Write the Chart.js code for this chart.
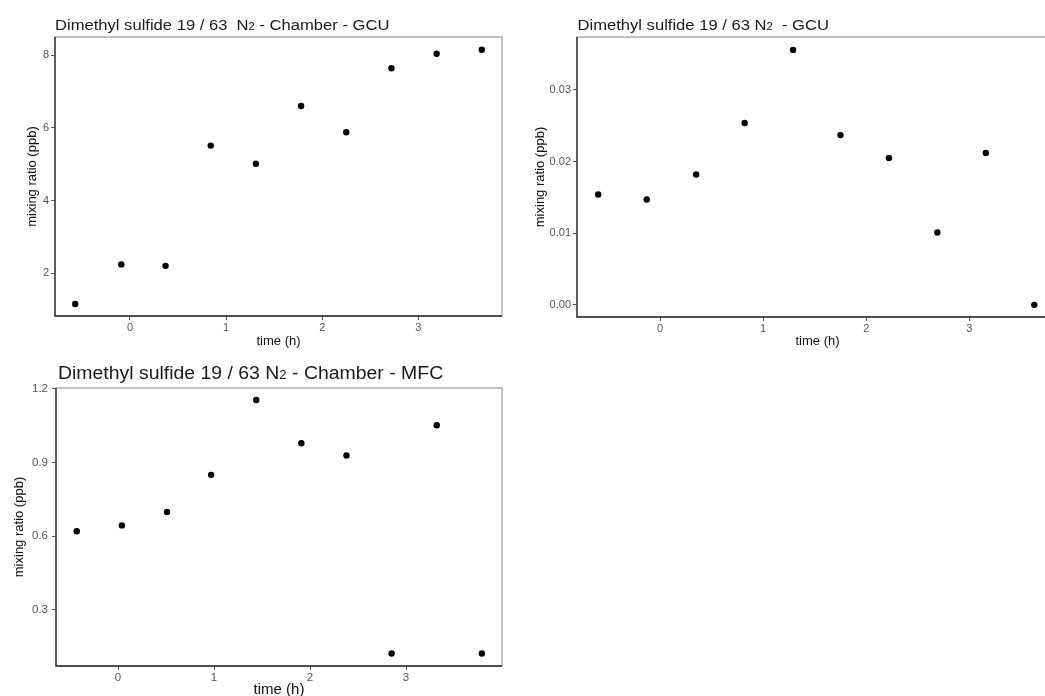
<!DOCTYPE html>
<html>
<head>
<meta charset="utf-8">
<script src="https://cdn.jsdelivr.net/npm/chart.js@4.4.1/dist/chart.umd.min.js"></script>
<style>
  html, body { margin: 0; padding: 0; background: #fff; overflow: hidden; width: 1045px; height: 696px; }
  canvas { position: absolute; }
</style>
</head>
<body>
<canvas id="cGcuChamber" width="515" height="350" style="left:0;top:0"></canvas>
<canvas id="cGcu" width="560" height="350" style="left:520px;top:0"></canvas>
<canvas id="cMfc" width="515" height="351" style="left:0;top:345px"></canvas>
<script>
// DMS 19/63 in N2 — three measurement lines
const timeGcuChamber = [-0.57, -0.09, 0.37, 0.84, 1.31, 1.78, 2.25, 2.72, 3.19, 3.66];
const dmsGcuChamber  = [1.15, 2.24, 2.20, 5.51, 5.01, 6.60, 5.88, 7.64, 8.04, 8.15];

const timeGcu = [-0.60, -0.13, 0.35, 0.82, 1.29, 1.75, 2.22, 2.69, 3.16, 3.63];
const dmsGcu  = [0.0154, 0.0147, 0.0182, 0.0254, 0.0356, 0.0237, 0.0205, 0.0101, 0.0212, 0.0000];

const timeMfc = [-0.43, 0.04, 0.51, 0.97, 1.44, 1.91, 2.38, 2.85, 3.32, 3.79];
const dmsMfc  = [0.620, 0.644, 0.699, 0.850, 1.155, 0.979, 0.929, 0.122, 1.052, 0.122];

const timeTicks = [0, 1, 2, 3];
const yTicksGcuChamber = [2, 4, 6, 8];
const yTicksGcu = [0, 0.01, 0.02, 0.03];
const yTicksMfc = [0.3, 0.6, 0.9, 1.2];

const FONT = '"Liberation Sans", Arial, Helvetica, sans-serif';

// title pieces: [text before subscript, subscript, text after]
function titleParts(pre, sub, post) { return [pre, sub, post]; }

// frame + title + axis titles, drawn around the chart area
const panelDecor = {
  id: 'panelDecor',
  afterDraw(chart, args, o) {
    const { ctx, chartArea: a } = chart;
    ctx.save();
    ctx.lineWidth = 1.3;
    ctx.strokeStyle = '#a3a3a3';
    ctx.strokeRect(a.left, a.top, a.right - a.left, a.bottom - a.top);
    ctx.strokeStyle = '#2a2a2a';
    ctx.beginPath();
    ctx.moveTo(a.left, a.top);
    ctx.lineTo(a.left, a.bottom);
    ctx.lineTo(a.right, a.bottom);
    ctx.stroke();

    // title with a smaller "2" for N2
    ctx.save();
    ctx.fillStyle = '#1a1a1a';
    ctx.textAlign = 'left';
    ctx.textBaseline = 'alphabetic';
    ctx.translate(a.left + o.titleDx, a.top - o.titleGap);
    ctx.scale(o.titleStretch, 1);
    let x = 0;
    o.title.forEach((s, i) => {
      ctx.font = (i === 1 ? o.titleSize * 0.68 : o.titleSize) + 'px ' + FONT;
      ctx.fillText(s, x, 0);
      x += ctx.measureText(s).width;
    });
    ctx.restore();

    ctx.fillStyle = '#111';
    ctx.textAlign = 'center';
    ctx.textBaseline = 'middle';
    ctx.font = o.xTitleSize + 'px ' + FONT;
    ctx.fillText('time (h)', (a.left + a.right) / 2, a.bottom + o.xTitleGap);

    ctx.font = o.yTitleSize + 'px ' + FONT;
    ctx.translate(o.yTitleX, (a.top + a.bottom) / 2);
    ctx.rotate(-Math.PI / 2);
    ctx.fillText('mixing ratio (ppb)', 0, 0);
    ctx.restore();
  }
};

function axis(ticks, min, max, fit, tickFont, decimals, pad) {
  return {
    type: 'linear',
    min: min,
    max: max,
    afterBuildTicks: s => { s.ticks = ticks.map(v => ({ value: v })); },
    afterFit: s => { if (s.isHorizontal()) s.height = fit; else s.width = fit; },
    grid: { drawOnChartArea: false, drawTicks: true, tickLength: 4, color: '#555', lineWidth: 1 },
    border: { display: false },
    ticks: {
      color: '#555',
      font: { size: tickFont, family: FONT },
      padding: pad,
      maxRotation: 0,
      autoSkip: false,
      callback: v => Number(v).toFixed(decimals)
    }
  };
}

function makePanel(id, xs, ys, cfg) {
  const pts = xs.map((x, i) => ({ x: x, y: ys[i] }));
  return new Chart(document.getElementById(id), {
    type: 'scatter',
    data: {
      datasets: [{
        data: pts,
        backgroundColor: '#000',
        borderWidth: 0,
        pointRadius: 3.2,
        pointHoverRadius: 3.2
      }]
    },
    options: {
      responsive: false,
      animation: false,
      devicePixelRatio: 1,
      layout: { padding: cfg.padding },
      plugins: {
        legend: { display: false },
        tooltip: { enabled: false },
        panelDecor: cfg.decor
      },
      scales: {
        x: axis(timeTicks, cfg.xMin, cfg.xMax, cfg.xFit, cfg.xFont, 0, cfg.xPad),
        y: axis(cfg.yTicks, cfg.yMin, cfg.yMax, cfg.yFit, cfg.yFont, cfg.yDec, cfg.yPad)
      }
    },
    plugins: [panelDecor]
  });
}

makePanel('cGcuChamber', timeGcuChamber, dmsGcuChamber, {
  padding: { left: 0, top: 37, right: 13, bottom: 0 },
  xMin: -0.78, xMax: 3.87, yMin: 0.82, yMax: 8.5,
  yTicks: yTicksGcuChamber, yDec: 0,
  xFit: 34, yFit: 55, xFont: 11, yFont: 11, xPad: 1, yPad: 2,
  decor: { title: titleParts('Dimethyl sulfide 19 / 63  N', '2', ' - Chamber - GCU'),
           titleSize: 15.5, titleStretch: 1.07, titleDx: 0, titleGap: 7,
           xTitleSize: 13, xTitleGap: 25, yTitleSize: 13, yTitleX: 32 }
});

makePanel('cGcu', timeGcu, dmsGcu, {
  padding: { left: 0, top: 37, right: 22, bottom: 0 },
  xMin: -0.806, xMax: 3.86, yMin: -0.0017, yMax: 0.0374,
  yTicks: yTicksGcu, yDec: 2,
  xFit: 33, yFit: 57, xFont: 11, yFont: 11, xPad: 1, yPad: 2,
  decor: { title: titleParts('Dimethyl sulfide 19 / 63 N', '2', '  - GCU'),
           titleSize: 15.5, titleStretch: 1.07, titleDx: 0.5, titleGap: 7,
           xTitleSize: 13, xTitleGap: 24, yTitleSize: 13, yTitleX: 20 }
});

makePanel('cMfc', timeMfc, dmsMfc, {
  padding: { left: 0, top: 43, right: 13, bottom: 0 },
  xMin: -0.646, xMax: 4.0, yMin: 0.071, yMax: 1.204,
  yTicks: yTicksMfc, yDec: 1,
  xFit: 30, yFit: 56, xFont: 11.5, yFont: 11.5, xPad: 1, yPad: 4,
  decor: { title: titleParts('Dimethyl sulfide 19 / 63 N', '2', ' - Chamber - MFC'),
           titleSize: 17.5, titleStretch: 1.11, titleDx: 2, titleGap: 9.5,
           xTitleSize: 15, xTitleGap: 24, yTitleSize: 13, yTitleX: 19 }
});
</script>
</body>
</html>
